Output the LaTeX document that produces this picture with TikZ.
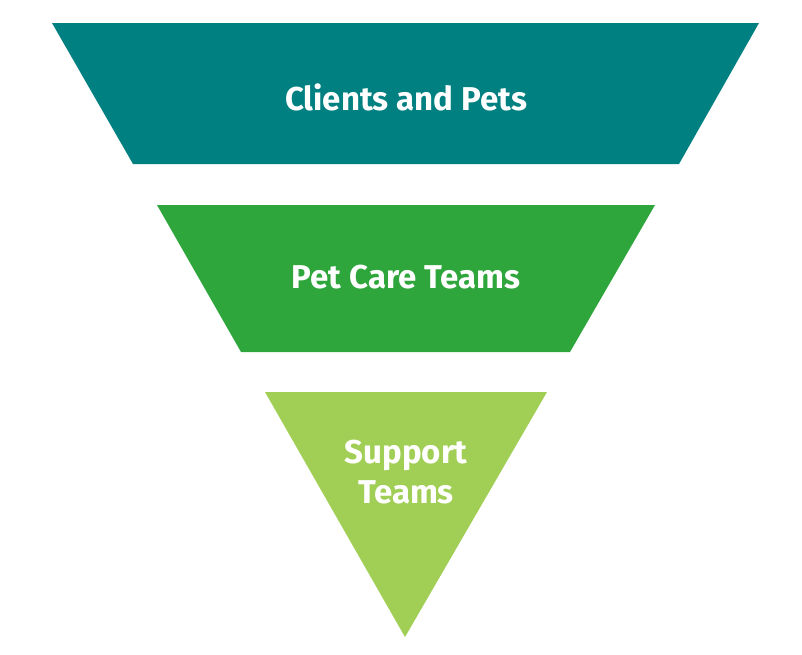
\documentclass[tikz,border=0pt]{standalone}
\usepackage{fontspec}
\setmainfont{Fira Sans}
\usetikzlibrary{positioning}

\definecolor{tealtop}{RGB}{0,128,128}
\definecolor{greenmid}{RGB}{46,166,60}
\definecolor{greenlow}{RGB}{161,206,85}

\begin{document}
\begin{tikzpicture}[x=1pt, y=-1pt,
  level/.style={font=\fontsize{33}{40}\selectfont\bfseries, text=white, align=center}]

\useasboundingbox (0,0) rectangle (802,654);

% funnel bands
\fill[tealtop] (52,23) -- (759,23) -- (679,164) -- (133,164) -- cycle;
\fill[greenmid] (157,205) -- (655,205) -- (570,352) -- (241,352) -- cycle;
\fill[greenlow] (265,392) -- (547,392) -- (405,637) -- cycle;

\node[level] (clients) at (406,97) {Clients and Pets};
\node[level] (petcare) at (406,277) {Pet Care Teams};
\node[level] (support) at (406,472) {Support\\Teams};

\end{tikzpicture}
\end{document}
